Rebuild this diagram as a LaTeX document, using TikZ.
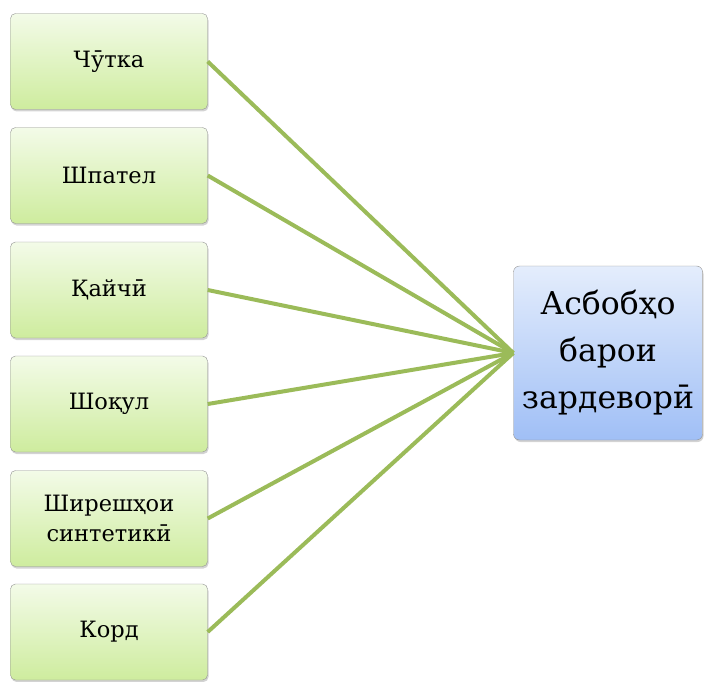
\documentclass[tikz,border=0pt]{standalone}
\usepackage{fontspec}
\newfontfamily\tjfont{DejaVu Serif}
\usetikzlibrary{shadows}

\definecolor{linkgreen}{RGB}{155,187,89}
\definecolor{greentop}{RGB}{243,251,232}
\definecolor{greenbot}{RGB}{206,236,158}
\definecolor{bluetop}{RGB}{228,237,252}
\definecolor{bluebot}{RGB}{160,191,246}

\tikzset{
  toolbox/.style={draw=gray!85,rounded corners=5pt,minimum width=197pt,
    minimum height=96pt,top color=greentop,bottom color=greenbot,
    align=center,font=\tjfont\fontsize{22.5}{30}\selectfont,
    drop shadow={shadow xshift=1pt,shadow yshift=-2pt,opacity=0.35}},
  mainbox/.style={draw=gray!85,rounded corners=6pt,minimum width=189pt,
    minimum height=174pt,top color=bluetop,bottom color=bluebot,
    align=center,font=\tjfont\fontsize{31.5}{47}\selectfont,
    drop shadow={shadow xshift=1pt,shadow yshift=-2pt,opacity=0.35}},
  link/.style={linkgreen,line width=4pt}
}

\begin{document}
\begin{tikzpicture}[x=1pt,y=1pt]
  \useasboundingbox (0,0) rectangle (704,-682);

  \node[mainbox] (tools) at (608,-353) {Асбобҳо\\барои\\зардеворӣ};

  \node[toolbox] (box1) at (109,-61.5) {Чӯтка};
  \node[toolbox] (box2) at (109,-175.5) {Шпател};
  \node[toolbox] (box3) at (109,-290) {Қайчӣ};
  \node[toolbox] (box4) at (109,-404) {Шоқул};
  \node[toolbox] (box5) at (109,-518.5) {Ширешҳои\\синтетикӣ};
  \node[toolbox] (box6) at (109,-632) {Корд};

  \foreach \i in {1,...,6}
    \draw[link] (box\i.east) -- (tools.west);
\end{tikzpicture}
\end{document}
